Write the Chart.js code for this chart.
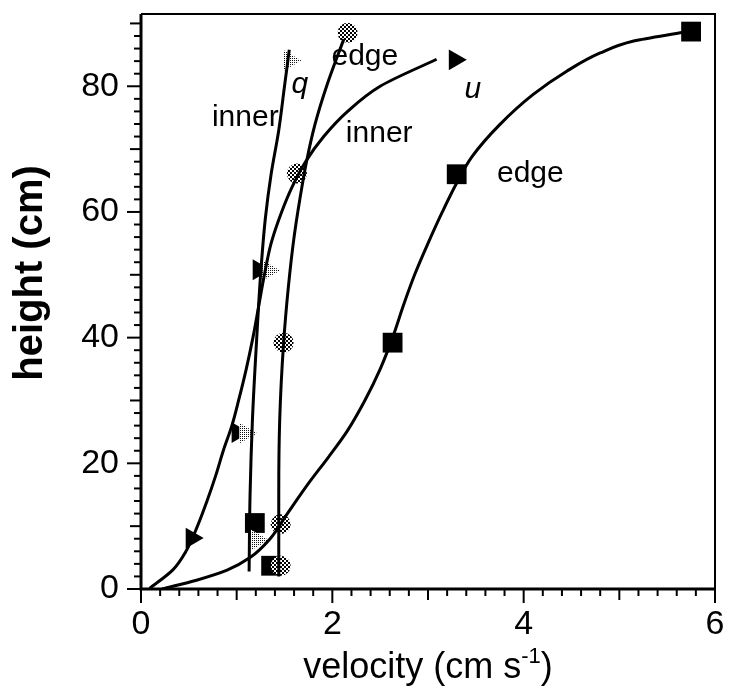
<!DOCTYPE html>
<html>
<head>
<meta charset="utf-8">
<script src="https://cdn.jsdelivr.net/npm/chart.js@4"></script>
<style>
  body { margin: 0; background: #ffffff; }
</style>
</head>
<body>
<canvas id="velocity_chart" width="729" height="698"></canvas>
<script>
// measured points (velocity cm/s, height cm)
const u_edge_x = [1.36, 1.19, 2.63, 3.30, 5.75];
const u_edge_y = [3.7, 10.5, 39.2, 66.0, 88.7];
const q_edge_x = [1.46, 1.46, 1.49, 1.63, 2.16];
const q_edge_y = [3.7, 10.3, 39.2, 66.1, 88.5];
const u_inner_x = [0.53, 1.01, 1.23, 3.28];
const u_inner_y = [8.1, 24.9, 50.8, 84.2];
const q_inner_x = [1.21, 1.09, 1.33, 1.55];
const q_inner_y = [7.8, 24.8, 50.7, 84.1];

// fitted curves (sorted by height)
const u_inner_fit_x = [0.09, 0.33, 0.47, 0.59, 0.69, 0.78, 0.86, 0.95, 1.02, 1.10, 1.17, 1.23, 1.29, 1.36, 1.47, 1.58, 1.72, 1.91, 2.16, 2.50, 3.09];
const u_inner_fit_y = [0.1, 3, 6, 10, 14, 18, 22, 26, 30, 35, 40, 45, 50, 55, 60, 64, 68, 72, 76, 80, 84.3];
const q_inner_fit_x = [1.13, 1.14, 1.165, 1.21, 1.25, 1.30, 1.36, 1.44, 1.50, 1.55];
const q_inner_fit_y = [2.8, 15, 27, 40, 50, 59, 66, 73, 80, 85.8];
const q_edge_fit_x = [1.44, 1.44, 1.45, 1.49, 1.54, 1.60, 1.66, 1.73, 1.82, 1.94, 2.12];
const q_edge_fit_y = [2.0, 15, 27, 39, 48, 56, 62, 68, 74, 80, 87.5];
const u_edge_fit_x = [0.22, 0.58, 0.90, 1.14, 1.35, 1.53, 1.76, 1.96, 2.15, 2.34, 2.50, 2.63, 2.74, 2.86, 3.00, 3.15, 3.30, 3.46, 3.75, 4.10, 4.45, 4.80, 5.15, 5.67];
const u_edge_fit_y = [0, 1.4, 3, 5, 8, 12, 17, 21, 25, 30, 35, 40, 45, 50, 55, 60, 64.6, 68.8, 73.9, 78.7, 82.4, 85.3, 87.2, 88.6];

// axis ticks
const x_tick_labels = [0, 2, 4, 6];
const y_tick_labels = [0, 20, 40, 60, 80];

// curve labels
const curve_labels = [
  { text: "inner", x: 1.09, y: 75.0, italic: false },
  { text: "q", x: 1.66, y: 80.3, italic: true },
  { text: "edge", x: 2.34, y: 84.7, italic: false },
  { text: "inner", x: 2.49, y: 72.5, italic: false },
  { text: "u", x: 3.47, y: 79.5, italic: true },
  { text: "edge", x: 4.07, y: 66.1, italic: false },
];

const FONT = "'Liberation Sans', Arial, sans-serif";

function pts(xs, ys) {
  return xs.map((x, i) => ({ x: x, y: ys[i] }));
}

function makePattern(size, dots, bg, fg) {
  const c = document.createElement("canvas");
  c.width = size;
  c.height = size;
  const g = c.getContext("2d");
  g.fillStyle = bg;
  g.fillRect(0, 0, size, size);
  g.fillStyle = fg;
  dots.forEach(d => g.fillRect(d[0], d[1], d[2], d[3]));
  return g.createPattern(c, "repeat");
}

const checker = makePattern(4, [[0, 0, 2, 2], [2, 2, 2, 2]], "#000", "#fff");
const stipple = makePattern(2, [[0, 0, 1, 1]], "#fff", "#111");

function fitLine(xs, ys) {
  return {
    data: pts(xs, ys),
    showLine: true,
    indexAxis: "y",
    cubicInterpolationMode: "monotone",
    borderColor: "#000",
    borderWidth: 3,
    pointRadius: 0,
    fill: false,
  };
}

const axes_plugin = {
  id: "axes_plugin",
  afterDraw(chart) {
    const ctx = chart.ctx;
    const a = chart.chartArea;
    const xs = chart.scales.x;
    const ys = chart.scales.y;
    ctx.save();
    ctx.strokeStyle = "#000";
    ctx.fillStyle = "#000";

    // frame
    ctx.lineWidth = 2;
    ctx.beginPath();
    ctx.moveTo(a.left, a.top);
    ctx.lineTo(a.right, a.top);
    ctx.lineTo(a.right, a.bottom);
    ctx.stroke();
    ctx.lineWidth = 3;
    ctx.beginPath();
    ctx.moveTo(a.left, a.top);
    ctx.lineTo(a.left, a.bottom);
    ctx.lineTo(a.right, a.bottom);
    ctx.stroke();

    // ticks
    ctx.lineWidth = 2;
    for (let i = 0; i <= 30; i++) {
      const px = xs.getPixelForValue(i * 0.2);
      const len = i % 10 === 0 ? 14 : (i % 5 === 0 ? 11 : 7);
      ctx.beginPath();
      ctx.moveTo(px, a.bottom);
      ctx.lineTo(px, a.bottom + len);
      ctx.stroke();
    }
    for (let i = 0; i <= 45; i++) {
      const py = ys.getPixelForValue(i * 2);
      const len = i % 10 === 0 ? 14 : (i % 5 === 0 ? 11 : 7);
      ctx.beginPath();
      ctx.moveTo(a.left, py);
      ctx.lineTo(a.left - len, py);
      ctx.stroke();
    }

    // tick labels
    ctx.font = "34px " + FONT;
    ctx.textAlign = "center";
    ctx.textBaseline = "top";
    x_tick_labels.forEach(v => ctx.fillText(String(v), xs.getPixelForValue(v), a.bottom + 19));
    ctx.textAlign = "right";
    ctx.textBaseline = "middle";
    y_tick_labels.forEach(v => ctx.fillText(String(v), a.left - 22, ys.getPixelForValue(v)));

    // axis titles
    const main = "velocity (cm s";
    const sup = "-1";
    const close = ")";
    ctx.font = "36px " + FONT;
    const w1 = ctx.measureText(main).width;
    const w3 = ctx.measureText(close).width;
    ctx.font = "22px " + FONT;
    const w2 = ctx.measureText(sup).width;
    const sx = (a.left + a.right) / 2 - (w1 + w2 + w3) / 2;
    const ty = 668;
    ctx.textAlign = "left";
    ctx.textBaseline = "middle";
    ctx.font = "36px " + FONT;
    ctx.fillText(main, sx, ty);
    ctx.font = "22px " + FONT;
    ctx.fillText(sup, sx + w1, ty - 11);
    ctx.font = "36px " + FONT;
    ctx.fillText(close, sx + w1 + w2, ty);

    ctx.save();
    ctx.translate(31, 273);
    ctx.rotate(-Math.PI / 2);
    ctx.textAlign = "center";
    ctx.textBaseline = "middle";
    ctx.font = "bold 40px " + FONT;
    ctx.fillText("height (cm)", 0, 0);
    ctx.restore();

    // curve labels
    ctx.textAlign = "center";
    ctx.textBaseline = "middle";
    curve_labels.forEach(l => {
      ctx.font = (l.italic ? "italic " : "") + "30px " + FONT;
      ctx.fillText(l.text, xs.getPixelForValue(l.x), ys.getPixelForValue(l.y));
    });
    ctx.restore();
  },
};

const config_velocity = {
  type: "scatter",
  data: {
    datasets: [
      fitLine(u_inner_fit_x, u_inner_fit_y),
      fitLine(q_inner_fit_x, q_inner_fit_y),
      fitLine(q_edge_fit_x, q_edge_fit_y),
      fitLine(u_edge_fit_x, u_edge_fit_y),
      {
        label: "q inner",
        data: pts(q_inner_x, q_inner_y),
        pointStyle: "triangle",
        rotation: 90,
        pointRadius: 12,
        backgroundColor: stipple,
        borderWidth: 0,
      },
      {
        label: "u inner",
        data: pts(u_inner_x, u_inner_y),
        pointStyle: "triangle",
        rotation: 90,
        pointRadius: 12,
        backgroundColor: "#000",
        borderWidth: 0,
      },
      {
        label: "q edge",
        data: pts(q_edge_x, q_edge_y),
        pointStyle: "circle",
        pointRadius: 10,
        backgroundColor: checker,
        borderWidth: 0,
      },
      {
        label: "u edge",
        data: pts(u_edge_x, u_edge_y),
        pointStyle: "rect",
        pointRadius: 14,
        backgroundColor: "#000",
        borderWidth: 0,
      },
    ],
  },
  options: {
    responsive: false,
    animation: false,
    layout: { padding: { left: 141, right: 14, top: 14, bottom: 109 } },
    plugins: { legend: { display: false }, tooltip: { enabled: false } },
    scales: {
      x: { type: "linear", min: 0, max: 6, display: false },
      y: { type: "linear", min: 0, max: 91.5, display: false },
    },
  },
  plugins: [axes_plugin],
};

const velocity_chart = new Chart(
  document.getElementById("velocity_chart"),
  config_velocity
);
</script>
</body>
</html>
